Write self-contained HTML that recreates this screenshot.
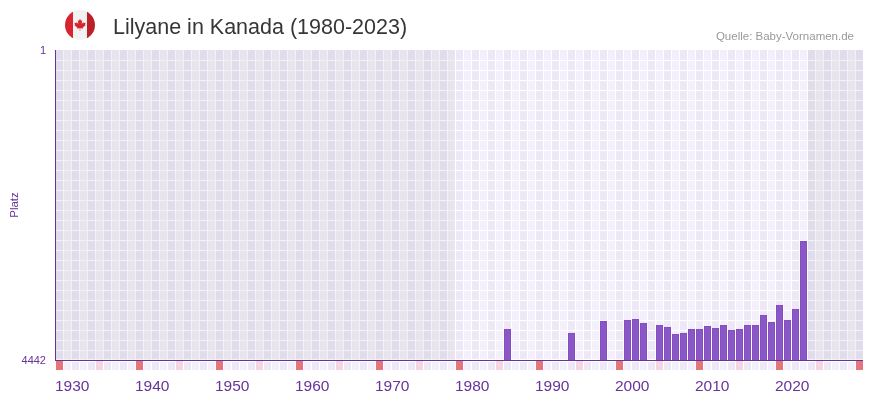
<!DOCTYPE html>
<html><head><meta charset="utf-8"><style>
html,body{margin:0;padding:0;background:#fff;width:873px;height:402px;overflow:hidden}
svg{display:block}
text{font-family:"Liberation Sans",sans-serif}
svg{will-change:transform}
.xl{font-size:15.5px;fill:#663399}
.yl{font-size:11px;fill:#663399}
</style></head><body>
<svg width="873" height="402" viewBox="0 0 873 402" shape-rendering="crispEdges">
<defs><clipPath id="fc"><circle cx="80" cy="25" r="15"/></clipPath></defs>
<g clip-path="url(#fc)" shape-rendering="geometricPrecision">
<rect x="64" y="9" width="9" height="32" fill="#d8242e"/>
<rect x="73" y="9" width="14" height="32" fill="#f2f2f2"/>
<rect x="85" y="9" width="2" height="32" fill="#e8efef"/>
<rect x="87" y="9" width="9" height="32" fill="#bb1f27"/>
</g>
<path transform="translate(80 18.6) scale(0.0031) translate(-4800 -390)" d="m4890 4430-45-863a95 95 0 0 1 111-98l859 151-116-320a65 65 0 0 1 20-73l941-762-212-99a65 65 0 0 1-34-79l186-572-542 115a65 65 0 0 1-73-38l-105-247-423 454a65 65 0 0 1-111-57l204-1052-327 189a65 65 0 0 1-91-27l-332-652-332 652a65 65 0 0 1-91 27l-327-189 204 1052a65 65 0 0 1-111 57l-423-454-105 247a65 65 0 0 1-73 38l-542-115 186 572a65 65 0 0 1-34 79l-212 99 941 762a65 65 0 0 1 20 73l-116 320 859-151a95 95 0 0 1 111 98l-45 863z" fill="#d8242e" shape-rendering="geometricPrecision"/>
<text x="113" y="34" font-size="21.5" fill="#363636">Lilyane in Kanada (1980-2023)</text>
<text x="854" y="40" font-size="11.5" fill="#999" text-anchor="end">Quelle: Baby-Vornamen.de</text>
<text x="46" y="54" class="yl" text-anchor="end">1</text>
<text x="46" y="364" class="yl" text-anchor="end">4442</text>
<text transform="translate(18 205) rotate(-90)" class="yl" font-size="11.5" style="font-size:11.5px" text-anchor="middle">Platz</text>
<rect x="56" y="50" width="7" height="310" fill="#ede7f8"/>
<rect x="64" y="50" width="7" height="310" fill="#f3f0fb"/>
<rect x="72" y="50" width="7" height="310" fill="#ede7f8"/>
<rect x="80" y="50" width="7" height="310" fill="#f3f0fb"/>
<rect x="88" y="50" width="7" height="310" fill="#ede7f8"/>
<rect x="96" y="50" width="7" height="310" fill="#f3f0fb"/>
<rect x="104" y="50" width="7" height="310" fill="#ede7f8"/>
<rect x="112" y="50" width="7" height="310" fill="#f3f0fb"/>
<rect x="120" y="50" width="7" height="310" fill="#ede7f8"/>
<rect x="128" y="50" width="7" height="310" fill="#f3f0fb"/>
<rect x="136" y="50" width="7" height="310" fill="#ede7f8"/>
<rect x="144" y="50" width="7" height="310" fill="#f3f0fb"/>
<rect x="152" y="50" width="7" height="310" fill="#ede7f8"/>
<rect x="160" y="50" width="7" height="310" fill="#f3f0fb"/>
<rect x="168" y="50" width="7" height="310" fill="#ede7f8"/>
<rect x="176" y="50" width="7" height="310" fill="#f3f0fb"/>
<rect x="184" y="50" width="7" height="310" fill="#ede7f8"/>
<rect x="192" y="50" width="7" height="310" fill="#f3f0fb"/>
<rect x="200" y="50" width="7" height="310" fill="#ede7f8"/>
<rect x="208" y="50" width="7" height="310" fill="#f3f0fb"/>
<rect x="216" y="50" width="7" height="310" fill="#ede7f8"/>
<rect x="224" y="50" width="7" height="310" fill="#f3f0fb"/>
<rect x="232" y="50" width="7" height="310" fill="#ede7f8"/>
<rect x="240" y="50" width="7" height="310" fill="#f3f0fb"/>
<rect x="248" y="50" width="7" height="310" fill="#ede7f8"/>
<rect x="256" y="50" width="7" height="310" fill="#f3f0fb"/>
<rect x="264" y="50" width="7" height="310" fill="#ede7f8"/>
<rect x="272" y="50" width="7" height="310" fill="#f3f0fb"/>
<rect x="280" y="50" width="7" height="310" fill="#ede7f8"/>
<rect x="288" y="50" width="7" height="310" fill="#f3f0fb"/>
<rect x="296" y="50" width="7" height="310" fill="#ede7f8"/>
<rect x="304" y="50" width="7" height="310" fill="#f3f0fb"/>
<rect x="312" y="50" width="7" height="310" fill="#ede7f8"/>
<rect x="320" y="50" width="7" height="310" fill="#f3f0fb"/>
<rect x="328" y="50" width="7" height="310" fill="#ede7f8"/>
<rect x="336" y="50" width="7" height="310" fill="#f3f0fb"/>
<rect x="344" y="50" width="7" height="310" fill="#ede7f8"/>
<rect x="352" y="50" width="7" height="310" fill="#f3f0fb"/>
<rect x="360" y="50" width="7" height="310" fill="#ede7f8"/>
<rect x="368" y="50" width="7" height="310" fill="#f3f0fb"/>
<rect x="376" y="50" width="7" height="310" fill="#ede7f8"/>
<rect x="384" y="50" width="7" height="310" fill="#f3f0fb"/>
<rect x="392" y="50" width="7" height="310" fill="#ede7f8"/>
<rect x="400" y="50" width="7" height="310" fill="#f3f0fb"/>
<rect x="408" y="50" width="7" height="310" fill="#ede7f8"/>
<rect x="416" y="50" width="7" height="310" fill="#f3f0fb"/>
<rect x="424" y="50" width="7" height="310" fill="#ede7f8"/>
<rect x="432" y="50" width="7" height="310" fill="#f3f0fb"/>
<rect x="440" y="50" width="7" height="310" fill="#ede7f8"/>
<rect x="448" y="50" width="7" height="310" fill="#f3f0fb"/>
<rect x="456" y="50" width="7" height="310" fill="#ede7f8"/>
<rect x="464" y="50" width="7" height="310" fill="#f3f0fb"/>
<rect x="472" y="50" width="7" height="310" fill="#ede7f8"/>
<rect x="480" y="50" width="7" height="310" fill="#f3f0fb"/>
<rect x="488" y="50" width="7" height="310" fill="#ede7f8"/>
<rect x="496" y="50" width="7" height="310" fill="#f3f0fb"/>
<rect x="504" y="50" width="7" height="310" fill="#ede7f8"/>
<rect x="512" y="50" width="7" height="310" fill="#f3f0fb"/>
<rect x="520" y="50" width="7" height="310" fill="#ede7f8"/>
<rect x="528" y="50" width="7" height="310" fill="#f3f0fb"/>
<rect x="536" y="50" width="7" height="310" fill="#ede7f8"/>
<rect x="544" y="50" width="7" height="310" fill="#f3f0fb"/>
<rect x="552" y="50" width="7" height="310" fill="#ede7f8"/>
<rect x="560" y="50" width="7" height="310" fill="#f3f0fb"/>
<rect x="568" y="50" width="7" height="310" fill="#ede7f8"/>
<rect x="576" y="50" width="7" height="310" fill="#f3f0fb"/>
<rect x="584" y="50" width="7" height="310" fill="#ede7f8"/>
<rect x="592" y="50" width="7" height="310" fill="#f3f0fb"/>
<rect x="600" y="50" width="7" height="310" fill="#ede7f8"/>
<rect x="608" y="50" width="7" height="310" fill="#f3f0fb"/>
<rect x="616" y="50" width="7" height="310" fill="#ede7f8"/>
<rect x="624" y="50" width="7" height="310" fill="#f3f0fb"/>
<rect x="632" y="50" width="7" height="310" fill="#ede7f8"/>
<rect x="640" y="50" width="7" height="310" fill="#f3f0fb"/>
<rect x="648" y="50" width="7" height="310" fill="#ede7f8"/>
<rect x="656" y="50" width="7" height="310" fill="#f3f0fb"/>
<rect x="664" y="50" width="7" height="310" fill="#ede7f8"/>
<rect x="672" y="50" width="7" height="310" fill="#f3f0fb"/>
<rect x="680" y="50" width="7" height="310" fill="#ede7f8"/>
<rect x="688" y="50" width="7" height="310" fill="#f3f0fb"/>
<rect x="696" y="50" width="7" height="310" fill="#ede7f8"/>
<rect x="704" y="50" width="7" height="310" fill="#f3f0fb"/>
<rect x="712" y="50" width="7" height="310" fill="#ede7f8"/>
<rect x="720" y="50" width="7" height="310" fill="#f3f0fb"/>
<rect x="728" y="50" width="7" height="310" fill="#ede7f8"/>
<rect x="736" y="50" width="7" height="310" fill="#f3f0fb"/>
<rect x="744" y="50" width="7" height="310" fill="#ede7f8"/>
<rect x="752" y="50" width="7" height="310" fill="#f3f0fb"/>
<rect x="760" y="50" width="7" height="310" fill="#ede7f8"/>
<rect x="768" y="50" width="7" height="310" fill="#f3f0fb"/>
<rect x="776" y="50" width="7" height="310" fill="#ede7f8"/>
<rect x="784" y="50" width="7" height="310" fill="#f3f0fb"/>
<rect x="792" y="50" width="7" height="310" fill="#ede7f8"/>
<rect x="800" y="50" width="7" height="310" fill="#f3f0fb"/>
<rect x="808" y="50" width="7" height="310" fill="#ede7f8"/>
<rect x="816" y="50" width="7" height="310" fill="#f3f0fb"/>
<rect x="824" y="50" width="7" height="310" fill="#ede7f8"/>
<rect x="832" y="50" width="7" height="310" fill="#f3f0fb"/>
<rect x="840" y="50" width="7" height="310" fill="#ede7f8"/>
<rect x="848" y="50" width="7" height="310" fill="#f3f0fb"/>
<rect x="856" y="50" width="7" height="310" fill="#ede7f8"/>
<path d="M55 60h808v1h-808zM55 70h808v1h-808zM55 80h808v1h-808zM55 90h808v1h-808zM55 100h808v1h-808zM55 110h808v1h-808zM55 120h808v1h-808zM55 130h808v1h-808zM55 140h808v1h-808zM55 150h808v1h-808zM55 160h808v1h-808zM55 170h808v1h-808zM55 180h808v1h-808zM55 190h808v1h-808zM55 200h808v1h-808zM55 210h808v1h-808zM55 220h808v1h-808zM55 230h808v1h-808zM55 240h808v1h-808zM55 250h808v1h-808zM55 260h808v1h-808zM55 270h808v1h-808zM55 280h808v1h-808zM55 290h808v1h-808zM55 300h808v1h-808zM55 310h808v1h-808zM55 320h808v1h-808zM55 330h808v1h-808zM55 340h808v1h-808zM55 350h808v1h-808zM55 359h808v1h-808z" fill="#fff"/>
<rect x="56" y="50" width="399" height="310" fill="#808080" fill-opacity="0.1"/>
<rect x="808" y="50" width="55" height="310" fill="#808080" fill-opacity="0.1"/>
<rect x="504" y="329" width="7" height="31" fill="#834dc3"/>
<rect x="505" y="330" width="5" height="30" fill="#8b57c6"/>
<rect x="568" y="333" width="7" height="27" fill="#834dc3"/>
<rect x="569" y="334" width="5" height="26" fill="#8b57c6"/>
<rect x="600" y="321" width="7" height="39" fill="#834dc3"/>
<rect x="601" y="322" width="5" height="38" fill="#8b57c6"/>
<rect x="624" y="320" width="7" height="40" fill="#834dc3"/>
<rect x="625" y="321" width="5" height="39" fill="#8b57c6"/>
<rect x="632" y="319" width="7" height="41" fill="#834dc3"/>
<rect x="633" y="320" width="5" height="40" fill="#8b57c6"/>
<rect x="640" y="323" width="7" height="37" fill="#834dc3"/>
<rect x="641" y="324" width="5" height="36" fill="#8b57c6"/>
<rect x="656" y="325" width="7" height="35" fill="#834dc3"/>
<rect x="657" y="326" width="5" height="34" fill="#8b57c6"/>
<rect x="664" y="327" width="7" height="33" fill="#834dc3"/>
<rect x="665" y="328" width="5" height="32" fill="#8b57c6"/>
<rect x="672" y="334" width="7" height="26" fill="#834dc3"/>
<rect x="673" y="335" width="5" height="25" fill="#8b57c6"/>
<rect x="680" y="333" width="7" height="27" fill="#834dc3"/>
<rect x="681" y="334" width="5" height="26" fill="#8b57c6"/>
<rect x="688" y="329" width="7" height="31" fill="#834dc3"/>
<rect x="689" y="330" width="5" height="30" fill="#8b57c6"/>
<rect x="696" y="329" width="7" height="31" fill="#834dc3"/>
<rect x="697" y="330" width="5" height="30" fill="#8b57c6"/>
<rect x="704" y="326" width="7" height="34" fill="#834dc3"/>
<rect x="705" y="327" width="5" height="33" fill="#8b57c6"/>
<rect x="712" y="328" width="7" height="32" fill="#834dc3"/>
<rect x="713" y="329" width="5" height="31" fill="#8b57c6"/>
<rect x="720" y="325" width="7" height="35" fill="#834dc3"/>
<rect x="721" y="326" width="5" height="34" fill="#8b57c6"/>
<rect x="728" y="330" width="7" height="30" fill="#834dc3"/>
<rect x="729" y="331" width="5" height="29" fill="#8b57c6"/>
<rect x="736" y="329" width="7" height="31" fill="#834dc3"/>
<rect x="737" y="330" width="5" height="30" fill="#8b57c6"/>
<rect x="744" y="325" width="7" height="35" fill="#834dc3"/>
<rect x="745" y="326" width="5" height="34" fill="#8b57c6"/>
<rect x="752" y="325" width="7" height="35" fill="#834dc3"/>
<rect x="753" y="326" width="5" height="34" fill="#8b57c6"/>
<rect x="760" y="315" width="7" height="45" fill="#834dc3"/>
<rect x="761" y="316" width="5" height="44" fill="#8b57c6"/>
<rect x="768" y="322" width="7" height="38" fill="#834dc3"/>
<rect x="769" y="323" width="5" height="37" fill="#8b57c6"/>
<rect x="776" y="305" width="7" height="55" fill="#834dc3"/>
<rect x="777" y="306" width="5" height="54" fill="#8b57c6"/>
<rect x="784" y="320" width="7" height="40" fill="#834dc3"/>
<rect x="785" y="321" width="5" height="39" fill="#8b57c6"/>
<rect x="792" y="309" width="7" height="51" fill="#834dc3"/>
<rect x="793" y="310" width="5" height="50" fill="#8b57c6"/>
<rect x="800" y="241" width="7" height="119" fill="#834dc3"/>
<rect x="801" y="242" width="5" height="118" fill="#8b57c6"/>
<rect x="55" y="50" width="1" height="311" fill="#663399"/>
<rect x="55" y="360" width="808" height="1" fill="#663399"/>
<rect x="56" y="361" width="7" height="9" fill="#e5757c"/>
<rect x="64" y="362" width="7" height="8" fill="#f3f0fb"/>
<rect x="72" y="362" width="7" height="8" fill="#ede7f8"/>
<rect x="80" y="362" width="7" height="8" fill="#f3f0fb"/>
<rect x="88" y="362" width="7" height="8" fill="#ede7f8"/>
<rect x="96" y="361" width="7" height="9" fill="#f5d6e0"/>
<rect x="104" y="362" width="7" height="8" fill="#ede7f8"/>
<rect x="112" y="362" width="7" height="8" fill="#f3f0fb"/>
<rect x="120" y="362" width="7" height="8" fill="#ede7f8"/>
<rect x="128" y="362" width="7" height="8" fill="#f3f0fb"/>
<rect x="136" y="361" width="7" height="9" fill="#e5757c"/>
<rect x="144" y="362" width="7" height="8" fill="#f3f0fb"/>
<rect x="152" y="362" width="7" height="8" fill="#ede7f8"/>
<rect x="160" y="362" width="7" height="8" fill="#f3f0fb"/>
<rect x="168" y="362" width="7" height="8" fill="#ede7f8"/>
<rect x="176" y="361" width="7" height="9" fill="#f5d6e0"/>
<rect x="184" y="362" width="7" height="8" fill="#ede7f8"/>
<rect x="192" y="362" width="7" height="8" fill="#f3f0fb"/>
<rect x="200" y="362" width="7" height="8" fill="#ede7f8"/>
<rect x="208" y="362" width="7" height="8" fill="#f3f0fb"/>
<rect x="216" y="361" width="7" height="9" fill="#e5757c"/>
<rect x="224" y="362" width="7" height="8" fill="#f3f0fb"/>
<rect x="232" y="362" width="7" height="8" fill="#ede7f8"/>
<rect x="240" y="362" width="7" height="8" fill="#f3f0fb"/>
<rect x="248" y="362" width="7" height="8" fill="#ede7f8"/>
<rect x="256" y="361" width="7" height="9" fill="#f5d6e0"/>
<rect x="264" y="362" width="7" height="8" fill="#ede7f8"/>
<rect x="272" y="362" width="7" height="8" fill="#f3f0fb"/>
<rect x="280" y="362" width="7" height="8" fill="#ede7f8"/>
<rect x="288" y="362" width="7" height="8" fill="#f3f0fb"/>
<rect x="296" y="361" width="7" height="9" fill="#e5757c"/>
<rect x="304" y="362" width="7" height="8" fill="#f3f0fb"/>
<rect x="312" y="362" width="7" height="8" fill="#ede7f8"/>
<rect x="320" y="362" width="7" height="8" fill="#f3f0fb"/>
<rect x="328" y="362" width="7" height="8" fill="#ede7f8"/>
<rect x="336" y="361" width="7" height="9" fill="#f5d6e0"/>
<rect x="344" y="362" width="7" height="8" fill="#ede7f8"/>
<rect x="352" y="362" width="7" height="8" fill="#f3f0fb"/>
<rect x="360" y="362" width="7" height="8" fill="#ede7f8"/>
<rect x="368" y="362" width="7" height="8" fill="#f3f0fb"/>
<rect x="376" y="361" width="7" height="9" fill="#e5757c"/>
<rect x="384" y="362" width="7" height="8" fill="#f3f0fb"/>
<rect x="392" y="362" width="7" height="8" fill="#ede7f8"/>
<rect x="400" y="362" width="7" height="8" fill="#f3f0fb"/>
<rect x="408" y="362" width="7" height="8" fill="#ede7f8"/>
<rect x="416" y="361" width="7" height="9" fill="#f5d6e0"/>
<rect x="424" y="362" width="7" height="8" fill="#ede7f8"/>
<rect x="432" y="362" width="7" height="8" fill="#f3f0fb"/>
<rect x="440" y="362" width="7" height="8" fill="#ede7f8"/>
<rect x="448" y="362" width="7" height="8" fill="#f3f0fb"/>
<rect x="456" y="361" width="7" height="9" fill="#e5757c"/>
<rect x="464" y="362" width="7" height="8" fill="#f3f0fb"/>
<rect x="472" y="362" width="7" height="8" fill="#ede7f8"/>
<rect x="480" y="362" width="7" height="8" fill="#f3f0fb"/>
<rect x="488" y="362" width="7" height="8" fill="#ede7f8"/>
<rect x="496" y="361" width="7" height="9" fill="#f5d6e0"/>
<rect x="504" y="362" width="7" height="8" fill="#ede7f8"/>
<rect x="512" y="362" width="7" height="8" fill="#f3f0fb"/>
<rect x="520" y="362" width="7" height="8" fill="#ede7f8"/>
<rect x="528" y="362" width="7" height="8" fill="#f3f0fb"/>
<rect x="536" y="361" width="7" height="9" fill="#e5757c"/>
<rect x="544" y="362" width="7" height="8" fill="#f3f0fb"/>
<rect x="552" y="362" width="7" height="8" fill="#ede7f8"/>
<rect x="560" y="362" width="7" height="8" fill="#f3f0fb"/>
<rect x="568" y="362" width="7" height="8" fill="#ede7f8"/>
<rect x="576" y="361" width="7" height="9" fill="#f5d6e0"/>
<rect x="584" y="362" width="7" height="8" fill="#ede7f8"/>
<rect x="592" y="362" width="7" height="8" fill="#f3f0fb"/>
<rect x="600" y="362" width="7" height="8" fill="#ede7f8"/>
<rect x="608" y="362" width="7" height="8" fill="#f3f0fb"/>
<rect x="616" y="361" width="7" height="9" fill="#e5757c"/>
<rect x="624" y="362" width="7" height="8" fill="#f3f0fb"/>
<rect x="632" y="362" width="7" height="8" fill="#ede7f8"/>
<rect x="640" y="362" width="7" height="8" fill="#f3f0fb"/>
<rect x="648" y="362" width="7" height="8" fill="#ede7f8"/>
<rect x="656" y="361" width="7" height="9" fill="#f5d6e0"/>
<rect x="664" y="362" width="7" height="8" fill="#ede7f8"/>
<rect x="672" y="362" width="7" height="8" fill="#f3f0fb"/>
<rect x="680" y="362" width="7" height="8" fill="#ede7f8"/>
<rect x="688" y="362" width="7" height="8" fill="#f3f0fb"/>
<rect x="696" y="361" width="7" height="9" fill="#e5757c"/>
<rect x="704" y="362" width="7" height="8" fill="#f3f0fb"/>
<rect x="712" y="362" width="7" height="8" fill="#ede7f8"/>
<rect x="720" y="362" width="7" height="8" fill="#f3f0fb"/>
<rect x="728" y="362" width="7" height="8" fill="#ede7f8"/>
<rect x="736" y="361" width="7" height="9" fill="#f5d6e0"/>
<rect x="744" y="362" width="7" height="8" fill="#ede7f8"/>
<rect x="752" y="362" width="7" height="8" fill="#f3f0fb"/>
<rect x="760" y="362" width="7" height="8" fill="#ede7f8"/>
<rect x="768" y="362" width="7" height="8" fill="#f3f0fb"/>
<rect x="776" y="361" width="7" height="9" fill="#e5757c"/>
<rect x="784" y="362" width="7" height="8" fill="#f3f0fb"/>
<rect x="792" y="362" width="7" height="8" fill="#ede7f8"/>
<rect x="800" y="362" width="7" height="8" fill="#f3f0fb"/>
<rect x="808" y="362" width="7" height="8" fill="#ede7f8"/>
<rect x="816" y="361" width="7" height="9" fill="#f5d6e0"/>
<rect x="824" y="362" width="7" height="8" fill="#ede7f8"/>
<rect x="832" y="362" width="7" height="8" fill="#f3f0fb"/>
<rect x="840" y="362" width="7" height="8" fill="#ede7f8"/>
<rect x="848" y="362" width="7" height="8" fill="#f3f0fb"/>
<rect x="856" y="361" width="7" height="9" fill="#e5757c"/>
<text x="55" y="391" class="xl">1930</text>
<text x="135" y="391" class="xl">1940</text>
<text x="215" y="391" class="xl">1950</text>
<text x="295" y="391" class="xl">1960</text>
<text x="375" y="391" class="xl">1970</text>
<text x="455" y="391" class="xl">1980</text>
<text x="535" y="391" class="xl">1990</text>
<text x="615" y="391" class="xl">2000</text>
<text x="695" y="391" class="xl">2010</text>
<text x="775" y="391" class="xl">2020</text>
</svg>
</body></html>
